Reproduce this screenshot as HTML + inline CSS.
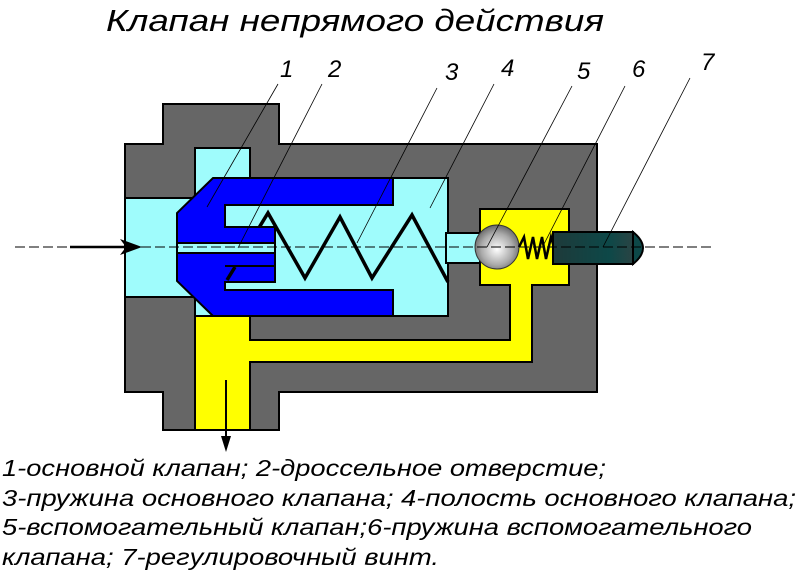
<!DOCTYPE html>
<html><head><meta charset="utf-8"><style>
html,body{margin:0;padding:0;background:#fff;width:800px;height:576px;overflow:hidden}
</style></head><body>
<svg width="800" height="576" viewBox="0 0 800 576" xmlns="http://www.w3.org/2000/svg">
<defs>
<radialGradient id="ball" cx="0.5" cy="0.55" r="0.6">
<stop offset="0" stop-color="#ffffff"/><stop offset="0.6" stop-color="#aaaaaa"/><stop offset="1" stop-color="#555"/>
</radialGradient>
<linearGradient id="scr" x1="0" x2="1" y1="0" y2="0">
<stop offset="0" stop-color="#1e3a3a"/><stop offset="0.7" stop-color="#0d4848"/><stop offset="1" stop-color="#2a4444"/>
</linearGradient>
</defs>
<g font-family="'Liberation Sans Narrow','Liberation Sans',sans-serif" font-style="italic" fill="#000">
<text x="106" y="31" font-size="31" textLength="498" lengthAdjust="spacingAndGlyphs">Клапан непрямого действия</text>
<g font-size="24">
<text x="280" y="77">1</text><text x="328" y="77">2</text><text x="445" y="80">3</text>
<text x="501" y="76">4</text><text x="577" y="79">5</text><text x="632" y="77">6</text><text x="701" y="70">7</text>
</g>
</g>
<path d="M163,104 H279 V144 H597 V392 H279 V430 H163 V392 H125 V144 H163 Z" fill="#666" stroke="#000" stroke-width="2"/>
<rect x="125" y="198" width="75" height="99" fill="#9ffcfc" stroke="#000" stroke-width="2"/>
<rect x="195" y="148" width="55" height="170" fill="#9ffcfc" stroke="#000" stroke-width="2"/>
<rect x="200" y="178" width="248" height="138" fill="#9ffcfc" stroke="#000" stroke-width="2"/>
<rect x="126" y="199" width="80" height="97" fill="#9ffcfc"/>
<rect x="196" y="176" width="53" height="141" fill="#9ffcfc"/>
<rect x="446" y="233" width="36" height="30" fill="#9ffcfc" stroke="#000" stroke-width="2"/>
<rect x="195" y="316" width="55" height="114" fill="#ffff00" stroke="#000" stroke-width="2"/>
<rect x="250" y="340" width="282" height="22" fill="#ffff00" stroke="#000" stroke-width="2"/>
<rect x="510" y="280" width="22" height="82" fill="#ffff00" stroke="#000" stroke-width="2"/>
<rect x="480" y="209" width="89" height="76" fill="#ffff00" stroke="#000" stroke-width="2"/>
<rect x="511" y="283" width="20" height="78" fill="#ffff00"/>
<rect x="249" y="341" width="281" height="20" fill="#ffff00"/>
<rect x="196" y="317" width="53" height="112" fill="#ffff00"/>
<polyline points="227,280 268,213 305,278 340,217 372,278 412,215 448,282" fill="none" stroke="#000" stroke-width="3.5"/>
<path d="M213,178 H393 V205 H225 V227 H275 V282 H225 V290 H393 V316 H213 L177,281 V213 Z" fill="#0000ff" stroke="#000" stroke-width="2"/>
<rect x="177" y="243" width="98" height="10" fill="#9ffcfc" stroke="#000" stroke-width="2"/>
<path d="M225,266 H275" stroke="#000" stroke-width="2"/>
<rect x="224" y="254" width="50" height="11" fill="#0000ff"/>
<rect x="224" y="229" width="50" height="13" fill="#0000ff"/>
<line x1="227" y1="280" x2="235" y2="267" stroke="#000" stroke-width="3.5"/>
<circle cx="497" cy="247" r="22" fill="url(#ball)" stroke="#333" stroke-width="1"/>
<polyline points="519,247 524,237 528,259 533,237 537,259 542,237 546,259 551,237 554,247" fill="none" stroke="#000" stroke-width="2.5"/>
<path d="M633,232 Q643,240 643,248 Q643,256 633,264 Z" fill="#0d4848" stroke="#000" stroke-width="2"/>
<rect x="553" y="232" width="80" height="32" fill="url(#scr)" stroke="#000" stroke-width="2"/>
<line x1="15" y1="247" x2="712" y2="247" stroke="#000" stroke-width="1" stroke-dasharray="10,4"/>
<line x1="70" y1="247" x2="128" y2="247" stroke="#000" stroke-width="2.5"/>
<polygon points="142,247 120,239 126,247 120,255" fill="#000"/>
<line x1="226" y1="380" x2="226" y2="440" stroke="#000" stroke-width="2"/>
<polygon points="226,452 221,436 231,436" fill="#000"/>
<g stroke="#000" stroke-width="0.8">
<line x1="278" y1="84" x2="207" y2="207"/>
<line x1="322" y1="84" x2="238" y2="248"/>
<line x1="437" y1="88" x2="357" y2="243"/>
<line x1="494" y1="84" x2="430" y2="208"/>
<line x1="572" y1="86" x2="487" y2="247"/>
<line x1="625" y1="86" x2="543" y2="246"/>
<line x1="690" y1="78" x2="603" y2="247"/>
</g>
<g font-family="'Liberation Sans Narrow','Liberation Sans',sans-serif" font-style="italic" font-size="23" fill="#000">
<text x="2" y="476" textLength="604" lengthAdjust="spacingAndGlyphs">1-основной клапан; 2-дроссельное отверстие;</text>
<text x="2" y="506" textLength="794" lengthAdjust="spacingAndGlyphs">3-пружина основного клапана; 4-полость основного клапана;</text>
<text x="2" y="535" textLength="750" lengthAdjust="spacingAndGlyphs">5-вспомогательный клапан;6-пружина вспомогательного</text>
<text x="2" y="565" textLength="437" lengthAdjust="spacingAndGlyphs">клапана; 7-регулировочный винт.</text>
</g>
</svg>
</body></html>
